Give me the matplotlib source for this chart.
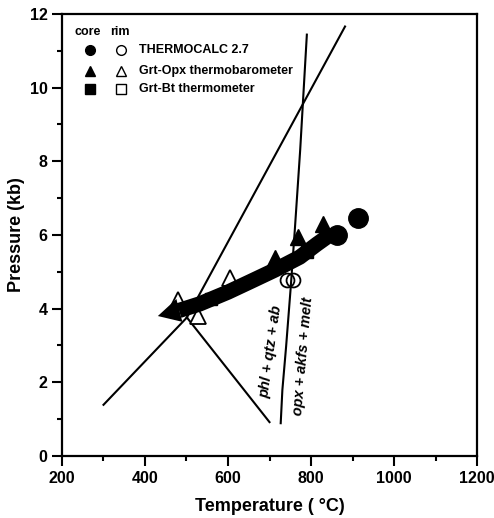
import matplotlib.pyplot as plt
from matplotlib.ticker import MultipleLocator

plt.rcParams['font.family'] = ['Liberation Sans', 'DejaVu Sans']
plt.rcParams['font.weight'] = 'bold'

# reaction curves (T in C, P in kb)
ky_sil_T = [501, 882]
ky_sil_P = [3.76, 11.66]
and_ky_T = [300, 501]
and_ky_P = [1.39, 3.76]
and_sil_T = [501, 700]
and_sil_P = [3.76, 0.92]
melt_T = [727, 731, 740, 751, 761, 774, 790]
melt_P = [0.89, 1.79, 2.97, 4.56, 6.14, 8.32, 11.44]

# P-T path (thick arrow)
path_T = [845, 814, 773, 713, 653, 600, 532, 482]
path_P = [6.0, 5.75, 5.4, 5.05, 4.73, 4.45, 4.13, 3.95]
tip_T, tip_P = 431, 3.8

# estimates: core (filled) / rim (open)
tc_core_T = [863, 913]
tc_core_P = [6.0, 6.47]
tc_rim_T = [742, 757]
tc_rim_P = [4.78, 4.78]
opx_core_T = [713, 769, 829]
opx_core_P = [5.38, 5.95, 6.30]
opx_rim_T = [480, 528, 605]
opx_rim_P = [4.24, 3.79, 4.84]
bt_core_T = [560, 790]
bt_core_P = [4.25, 5.55]

fig = plt.figure(figsize=(4.94, 5.18), dpi=100)
ax = fig.add_axes([0.1255, 0.1197, 0.8401, 0.8533])

lw = 1.5
ax.plot(ky_sil_T, ky_sil_P, color='k', lw=lw)
ax.plot(and_ky_T, and_ky_P, color='k', lw=lw)
ax.plot(and_sil_T, and_sil_P, color='k', lw=lw)
ax.plot(melt_T, melt_P, color='k', lw=lw)

# thick P-T path with arrowhead
ax.plot(path_T, path_P, color='k', lw=11, solid_capstyle='butt', zorder=3)
ax.annotate('', xy=(tip_T, tip_P), xytext=(path_T[-1], path_P[-1]),
            arrowprops=dict(arrowstyle='-|>,head_length=1.6,head_width=0.85',
                            mutation_scale=10, color='k', lw=0, shrinkA=0, shrinkB=0),
            zorder=3)

ax.plot(bt_core_T, bt_core_P, 's', color='k', ms=8, zorder=4)
ax.plot(opx_core_T, opx_core_P, '^', color='k', ms=12, zorder=4)
ax.plot(tc_core_T, tc_core_P, 'o', color='k', ms=14, zorder=4)
ax.plot(opx_rim_T, opx_rim_P, '^', mfc='white', mec='k', mew=1.3, ms=11, zorder=2)
ax.plot(tc_rim_T, tc_rim_P, 'o', mfc='none', mec='k', mew=1.3, ms=10, zorder=5)

# reaction labels
ax.text(703, 2.83, 'phl + qtz + ab', rotation=82, rotation_mode='anchor',
        ha='center', va='center', fontsize=10.5, style='italic', weight='bold')
ax.text(781, 2.72, 'opx + akfs + melt', rotation=85, rotation_mode='anchor',
        ha='center', va='center', fontsize=10.5, style='italic', weight='bold')

# legend
tr = ax.transAxes
ax.text(0.031, 0.959, 'core', transform=tr, fontsize=9, va='center')
ax.text(0.116, 0.959, 'rim', transform=tr, fontsize=9, va='center')
rows = [(0.919, 'o', 'THERMOCALC 2.7'),
        (0.871, '^', 'Grt-Opx thermobarometer'),
        (0.830, 's', 'Grt-Bt thermometer')]
for y, m, lab in rows:
    ax.plot([0.067], [y], m, color='k', ms=7, transform=tr)
    ax.plot([0.142], [y], m, mfc='white', mec='k', mew=1.0, ms=7, transform=tr)
    ax.text(0.186, y, lab, transform=tr, fontsize=9, va='center')

ax.set_xlim(200, 1200)
ax.set_ylim(0, 12)
ax.xaxis.set_major_locator(MultipleLocator(200))
ax.xaxis.set_minor_locator(MultipleLocator(100))
ax.yaxis.set_major_locator(MultipleLocator(2))
ax.yaxis.set_minor_locator(MultipleLocator(1))
ax.tick_params(which='major', direction='out', length=7, width=1.5, labelsize=11.5)
ax.tick_params(which='minor', direction='out', length=3.5, width=1.5)
for s in ax.spines.values():
    s.set_linewidth(1.6)

ax.set_xlabel('Temperature ( °C)', fontsize=13, weight='bold', labelpad=9)
ax.set_ylabel('Pressure (kb)', fontsize=13, weight='bold', labelpad=3)

fig.savefig('out.png', dpi=100)
